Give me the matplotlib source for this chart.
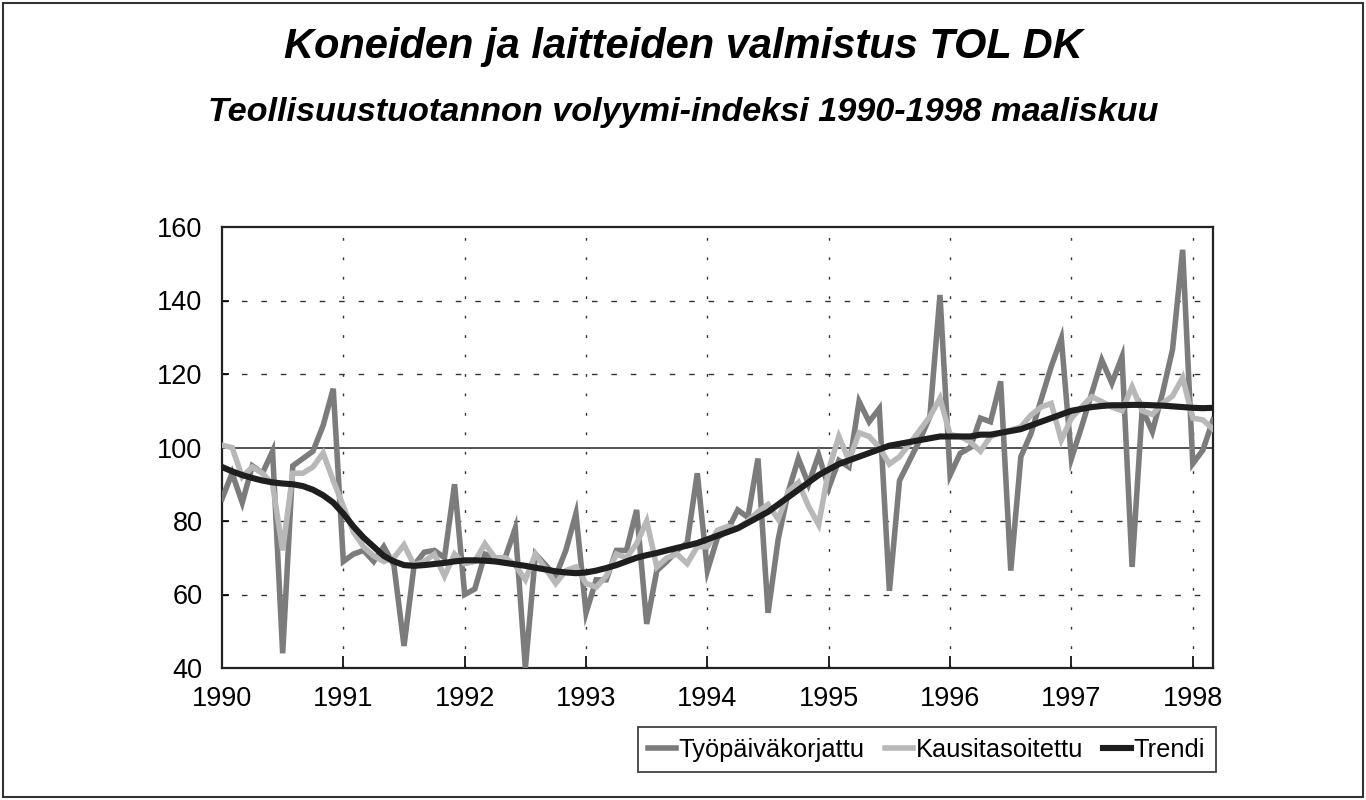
import matplotlib
matplotlib.use("Agg")
import matplotlib.pyplot as plt
from matplotlib.patches import Rectangle

plt.rcParams["font.family"] = ["Liberation Sans", "DejaVu Sans"]

# Monthly index values, January 1990 - March 1998
YEARS = ["1990", "1991", "1992", "1993", "1994", "1995", "1996", "1997", "1998"]

TYOPAIVAKORJATTU = [
    86, 93, 85, 95, 93, 99, 44, 95, 97, 99, 106, 116,
    69, 71, 72, 69, 73, 68, 46, 68, 71.5, 72, 70, 90,
    60, 61.5, 71, 70, 70, 78, 40, 71, 68, 65, 72, 82,
    55, 64, 64, 72, 72, 83, 52, 66.5, 69, 72, 74, 93,
    66.5, 75.5, 77.5, 83, 81, 97, 55, 75, 88, 97, 90, 98,
    89, 96.5, 94.7, 112.5, 107, 110.6, 61, 91, 96.5, 102, 108.4, 141.5,
    92.5, 98.4, 100, 108, 107, 118, 66.5, 97.5, 103.8, 113, 122, 129.7,
    97, 105.6, 114.7, 123.8, 117.5, 124.7, 67.5, 110.5, 104.3, 114.7, 126.7, 153.8,
    95.6, 99.3, 107.5,
]

KAUSITASOITETTU = [
    100.6, 100, 92, 94.7, 93, 90, 72, 93, 93, 94.7, 98.5, 91,
    84, 77, 73, 70.5, 69, 70, 73.5, 68, 69, 71, 65, 71,
    68.4, 69, 73.8, 70, 70, 68, 64, 71, 67, 63, 66.5, 67.5,
    63, 62, 65, 71, 70, 73.8, 80, 67.5, 70, 71, 68.4, 73,
    73, 77.5, 78.5, 78, 80, 82.5, 84.5, 80.5, 88, 90.5, 84, 79,
    94, 103, 96.5, 104, 103, 100, 95.5, 97.5, 101, 104.7, 108.4, 113.4,
    103.5, 103, 101.5, 99, 103, 104, 104.7, 105.6, 108.8, 111, 112, 102,
    108, 111, 113.8, 112.5, 111, 110, 116.5, 110, 109, 112, 114, 119,
    108, 107.5, 105,
]

TRENDI = [
    94.7, 93.5, 92.5, 91.7, 91, 90.5, 90.2, 90, 89.5, 88.5, 87, 85,
    82, 78.5, 75.5, 73, 70.5, 69, 68, 67.8, 68, 68.3, 68.6, 69,
    69.3, 69.3, 69.2, 69, 68.6, 68.2, 67.8, 67.3, 66.8, 66.3, 66, 65.8,
    66, 66.5, 67.2, 68, 69, 70, 70.7, 71.3, 72, 72.7, 73.3, 74,
    75, 76, 77, 78, 79.5, 81, 82.5, 84.5, 86.5, 88.5, 90.5, 92.5,
    94, 95.5, 96.5, 97.5, 98.5, 99.5, 100.5, 101, 101.5, 102, 102.5, 103,
    103, 103, 103, 103.5, 103.5, 104, 104.5, 105, 106, 107, 108, 109,
    110, 110.5, 111, 111.3, 111.5, 111.5, 111.6, 111.6, 111.5, 111.4, 111.2, 111,
    110.8, 110.7, 110.8,
]

LABELS = ["Työpäiväkorjattu", "Kausitasoitettu", "Trendi"]

months = list(range(len(TRENDI)))
year_ticks = [12 * i for i in range(len(YEARS))]

fig = plt.figure(figsize=(13.66, 8), dpi=100)
ax = fig.add_axes([222 / 1366, 1 - 668 / 800, (1213 - 222) / 1366, (668 - 227) / 800])

ax.plot(months, TYOPAIVAKORJATTU, color="#7c7c7c", linewidth=4.0, label=LABELS[0],
        solid_joinstyle="miter", zorder=3)
ax.plot(months, KAUSITASOITETTU, color="#b8b8b8", linewidth=4.0, label=LABELS[1],
        solid_joinstyle="miter", zorder=4)
ax.plot(months, TRENDI, color="#1e1e1e", linewidth=4.4, label=LABELS[2], zorder=5)

ax.set_xlim(0, len(TRENDI) - 1)
ax.set_ylim(40, 160)
ax.set_xticks(year_ticks)
ax.set_xticklabels(YEARS)
ax.set_yticks([40, 60, 80, 100, 120, 140, 160])

# grid: dotted verticals, dashed horizontals, solid line at 100
for x in year_ticks[1:]:
    ax.axvline(x, color="#333333", linewidth=1.0, linestyle=(0, (2, 12)), zorder=1)
for y in [60, 80, 120, 140]:
    ax.axhline(y, color="#333333", linewidth=1.0, linestyle=(0, (4, 10)), zorder=1)
ax.axhline(100, color="#222222", linewidth=1.1, zorder=2)

for s in ax.spines.values():
    s.set_linewidth(1.6)
    s.set_color("#222222")

ax.tick_params(axis="x", direction="in", length=9, width=1.2, pad=13, labelsize=19.5)
ax.tick_params(axis="y", direction="in", length=5, width=1.2, pad=14, labelsize=19.5)

fig.text(0.5, 1 - 47 / 800, "Koneiden ja laitteiden valmistus TOL DK",
         ha="center", va="center", fontsize=30, fontweight="bold", style="italic")
fig.text(0.5, 1 - 112 / 800, "Teollisuustuotannon volyymi-indeksi 1990-1998 maaliskuu",
         ha="center", va="center", fontsize=24.7, fontweight="bold", style="italic")

leg = fig.legend(loc="upper right", bbox_to_anchor=(1216 / 1366, 1 - 727 / 800), ncol=3,
                 fontsize=18.3, frameon=True, fancybox=False, edgecolor="#111111",
                 handlelength=1.1, handletextpad=0.1, columnspacing=0.8,
                 borderpad=0.42, borderaxespad=0)
leg.get_frame().set_linewidth(1.3)

fig.patches.append(Rectangle((3 / 1366, 3 / 800), 1 - 6 / 1366, 1 - 6 / 800,
                             transform=fig.transFigure, fill=False,
                             edgecolor="#333333", linewidth=1.5))

fig.savefig("out.png", dpi=100, facecolor="white")
